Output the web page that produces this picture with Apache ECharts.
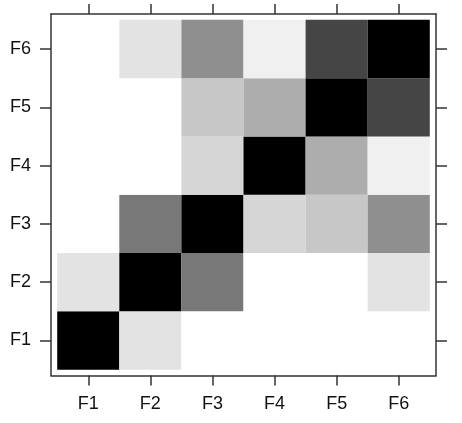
<!DOCTYPE html>
<html>
<head>
<meta charset="utf-8">
<script src="https://cdn.jsdelivr.net/npm/echarts@6/dist/echarts.min.js"></script>
<style>html,body{margin:0;padding:0;background:#fff}#c{width:462px;height:423px}</style>
</head>
<body>
<div id="c"></div>
<script>
// Category labels (x = columns, y = rows)
var xLabels = ['F1', 'F2', 'F3', 'F4', 'F5', 'F6'];
var yLabels = ['F1', 'F2', 'F3', 'F4', 'F5', 'F6'];
// Intensity per row (0 = white, 1 = black), columns F1..F6
var rowF1 = [1.00, 0.11, 0.00, 0.00, 0.00, 0.00];
var rowF2 = [0.11, 1.00, 0.53, 0.00, 0.00, 0.11];
var rowF3 = [0.00, 0.53, 1.00, 0.16, 0.22, 0.44];
var rowF4 = [0.00, 0.00, 0.16, 1.00, 0.32, 0.06];
var rowF5 = [0.00, 0.00, 0.22, 0.32, 1.00, 0.73];
var rowF6 = [0.00, 0.11, 0.44, 0.06, 0.73, 1.00];
var rows = [rowF1, rowF2, rowF3, rowF4, rowF5, rowF6];

var data = [];
rows.forEach(function (r, yi) {
  r.forEach(function (v, xi) { data.push([xi + 1, yi + 1, v]); });
});
var pos = xLabels.map(function (_, i) { return i + 1; });

var lineColor = '#333';
var font = 'Liberation Sans, Arial, sans-serif';
function axisCommon(labels, show, tickLen) {
  return {
    type: 'value', min: 0.4, max: 6.6,
    splitLine: { show: false },
    axisLine: { show: true, onZero: false, lineStyle: { color: lineColor, width: 1.5 } },
    axisTick: { show: true, customValues: pos, length: tickLen, lineStyle: { color: lineColor, width: 1.5 } },
    axisLabel: {
      show: show, customValues: pos, margin: 20,
      color: '#111', fontSize: 18, fontFamily: font,
      formatter: function (v) { return labels[Math.round(v) - 1]; }
    }
  };
}
var xb = axisCommon(xLabels, true, 10); xb.position = 'bottom';
var xt = axisCommon(xLabels, false, 10); xt.position = 'top';
var yl = axisCommon(yLabels, true, 11); yl.position = 'left';
var yr = axisCommon(yLabels, false, 11); yr.position = 'right';

var chart = echarts.init(document.getElementById('c'));
chart.setOption({
  animation: false,
  grid: { left: 51, top: 14, width: 385, height: 361.5 },
  xAxis: [xb, xt],
  yAxis: [yl, yr],
  visualMap: { show: false, min: 0, max: 1, dimension: 2, seriesIndex: 0,
    inRange: { color: ['#ffffff', '#000000'] } },
  series: [{
    type: 'custom',
    data: data,
    encode: { x: 0, y: 1 },
    renderItem: function (params, api) {
      var x = api.value(0), y = api.value(1);
      var p1 = api.coord([x - 0.5, y + 0.5]);
      var p2 = api.coord([x + 0.5, y - 0.5]);
      return {
        type: 'rect',
        shape: { x: p1[0], y: p1[1], width: p2[0] - p1[0], height: p2[1] - p1[1] },
        style: { fill: api.visual('color'), stroke: null }
      };
    }
  }]
});
</script>
</body>
</html>
